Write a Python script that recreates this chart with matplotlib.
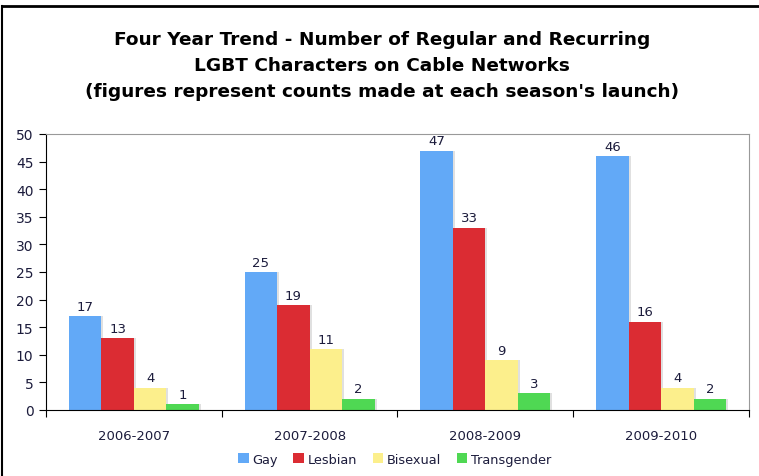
import matplotlib
matplotlib.use("Agg")
import matplotlib.pyplot as plt
from matplotlib.lines import Line2D
from matplotlib.patches import Rectangle
import numpy as np

seasons = ["2006-2007", "2007-2008", "2008-2009", "2009-2010"]
series = ["Gay", "Lesbian", "Bisexual", "Transgender"]
gay = [17, 25, 47, 46]
lesbian = [13, 19, 33, 16]
bisexual = [4, 11, 9, 4]
transgender = [1, 2, 3, 2]
colors = ["#62a9f7", "#db2c33", "#fcef8c", "#4fd853"]

values = [gay, lesbian, bisexual, transgender]

fig = plt.figure(figsize=(7.59, 4.77), dpi=100)
ax = fig.add_axes([0.0606, 0.1384, 0.9262, 0.5786])

bw = 0.185
start = 0.13
x = np.arange(len(seasons))
txtcol = "#1c1c3c"
for k, (name, vals, c) in enumerate(zip(series, values, colors)):
    xs = x + start + k * bw
    # soft shadow on right side
    for xi, v in zip(xs, vals):
        ax.add_patch(Rectangle((xi + 0.012, 0), bw, v, color="#cccccc", alpha=0.6, zorder=1, lw=0))
    ax.bar(xs, vals, width=bw, align="edge", color=c, edgecolor="none", zorder=2, label=name)
    for xi, v in zip(xs, vals):
        ax.annotate(str(v), (xi + bw / 2, v), xytext=(0, 2.5), textcoords="offset points",
                    ha="center", va="bottom", fontsize=9.5, color=txtcol)

ax.set_xlim(0, 4)
ax.set_ylim(0, 50)
ax.set_yticks(range(0, 51, 5))
ax.set_xticks(range(0, 5))
ax.set_xticklabels([])
ax.set_xticks(x + 0.5, minor=True)
ax.set_xticklabels(seasons, minor=True)
ax.tick_params(axis="x", which="minor", length=0, labelsize=9.5, labelcolor=txtcol, pad=14)
ax.tick_params(axis="x", which="major", length=5, direction="out", color="black")
ax.tick_params(axis="y", length=5, direction="out", labelsize=10, labelcolor=txtcol, pad=4)
for s in ["top", "right"]:
    ax.spines[s].set_color("#999999")
for s in ["left", "bottom"]:
    ax.spines[s].set_color("black")

title_lines = ["Four Year Trend - Number of Regular and Recurring",
               "LGBT Characters on Cable Networks",
               "(figures represent counts made at each season's launch)"]
for yy, line in zip([0.917, 0.862, 0.807], title_lines):
    fig.text(0.503, yy, line, ha="center", va="center", fontsize=13.3, fontweight="bold")

leg = fig.legend(loc="center", bbox_to_anchor=(0.52, 0.035), ncol=4, frameon=False,
                 fontsize=9.3, handlelength=0.8, handleheight=0.8, handletextpad=0.3,
                 columnspacing=1.2)
for t in leg.get_texts():
    t.set_color(txtcol)

# outer frame lines (top and left)
fig.add_artist(Line2D([0.003, 1], [0.986, 0.986], transform=fig.transFigure, color="black", lw=2))
fig.add_artist(Line2D([0.003, 0.003], [0, 0.986], transform=fig.transFigure, color="black", lw=1.5))

fig.savefig("out.png", dpi=100)
